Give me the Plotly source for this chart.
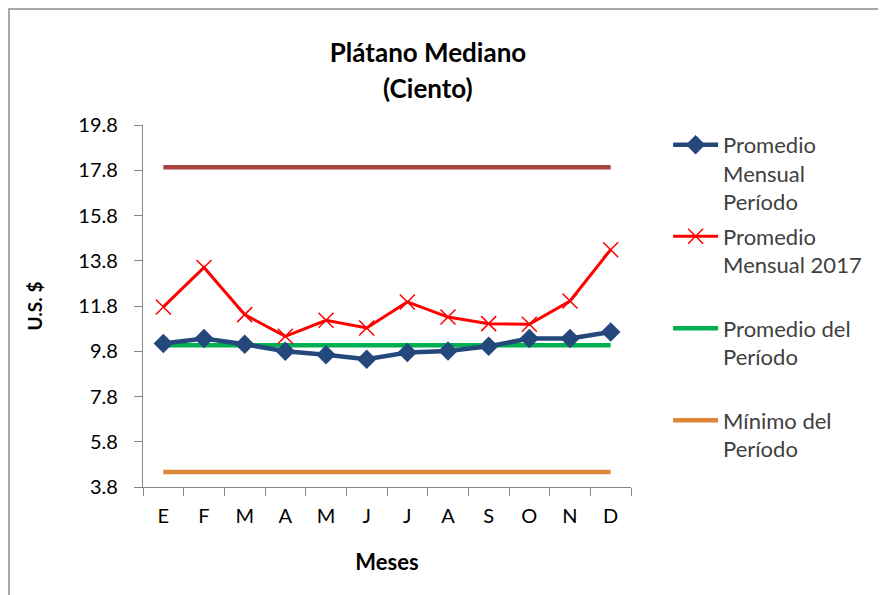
import plotly.graph_objects as go

meses = ["E", "F", "M", "A", "M ", "J", "J ", "A ", "S", "O", "N", "D"]
mes_labels = ["E", "F", "M", "A", "M", "J", "J", "A", "S", "O", "N", "D"]
prom_mensual_periodo = [10.14, 10.36, 10.11, 9.80, 9.65, 9.45, 9.74, 9.81, 10.02, 10.36, 10.36, 10.65]
prom_mensual_2017 = [11.76, 13.50, 11.42, 10.46, 11.17, 10.83, 11.98, 11.31, 11.02, 10.99, 12.02, 14.29]
prom_periodo = [10.07] * 12
max_periodo = [17.93] * 12
min_periodo = [4.46] * 12
y_ticks = [3.8, 5.8, 7.8, 9.8, 11.8, 13.8, 15.8, 17.8, 19.8]

FONT = "Lato"
# page body has an 8px margin: figure is sized/offset to compensate
W, H = 878, 587
ML, MT, PW, PH = 135, 117, 488, 362

fig = go.Figure()

fig.add_trace(go.Scatter(x=meses, y=max_periodo, mode="lines", name="Máximo del Período",
                         line=dict(color="#A8433F", width=4.5), showlegend=False))
fig.add_trace(go.Scatter(x=meses, y=min_periodo, mode="lines", name="Mínimo del<br>Período",
                         line=dict(color="#DE8538", width=4.5), legend="legend4"))
fig.add_trace(go.Scatter(x=meses, y=prom_periodo, mode="lines", name="Promedio del<br>Período",
                         line=dict(color="#00B050", width=4.5), legend="legend3"))
fig.add_trace(go.Scatter(x=meses, y=prom_mensual_periodo, mode="lines+markers",
                         name="Promedio<br>Mensual<br>Período",
                         line=dict(color="#24487C", width=4.5),
                         marker=dict(symbol="diamond", size=15, color="#24487C"), legend="legend"))
fig.add_trace(go.Scatter(x=meses, y=prom_mensual_2017, mode="lines+markers",
                         name="Promedio<br>Mensual 2017",
                         line=dict(color="#FF0000", width=3),
                         marker=dict(symbol="x-thin", size=15, line=dict(color="#FF0000", width=1.5)),
                         legend="legend2"))

leg_common = dict(x=1.076, xanchor="left", yanchor="top", valign="top",
                  font=dict(family=FONT, size=22, color="#404040"),
                  bgcolor="rgba(0,0,0,0)", itemwidth=45, tracegroupgap=0)

fig.update_layout(
    width=W, height=H,
    margin=dict(l=ML, r=W - ML - PW, t=MT, b=H - MT - PH, autoexpand=False),
    paper_bgcolor="white", plot_bgcolor="white",
    font=dict(family=FONT, color="#000000"),
    title=dict(text="<b>Plátano Mediano</b>", x=420 / W, xanchor="center",
               y=1 - 45 / H, yanchor="middle", font=dict(family=FONT, size=26, color="#000000")),
    annotations=[dict(text="<b>(Ciento)</b>", xref="paper", yref="paper",
                      x=(420 - ML) / PW, y=1 + (MT - 80) / PH, xanchor="center", yanchor="middle",
                      showarrow=False, font=dict(family=FONT, size=26, color="#000000"))],
    xaxis=dict(tickmode="array", tickvals=meses, ticktext=mes_labels,
               range=[-0.5, 11.5], showline=True, linecolor="#868686", linewidth=1.3,
               ticks="outside", tickson="boundaries", ticklen=8, tickcolor="#868686",
               showgrid=False, zeroline=False, ticklabelstandoff=11,
               tickfont=dict(family=FONT, size=20, color="#000000"),
               title=dict(text="<b>Meses</b>", font=dict(family=FONT, size=22, color="#000000"),
                          standoff=28)),
    yaxis=dict(range=[3.8, 19.8], tickmode="array", tickvals=y_ticks,
               ticktext=[f"{v:.1f}" for v in y_ticks],
               showline=True, linecolor="#868686", linewidth=1.3,
               ticks="outside", ticklen=8, tickcolor="#868686",
               showgrid=False, zeroline=False, ticklabelstandoff=12,
               tickfont=dict(family=FONT, size=20, color="#000000"),
               title=dict(text="<b>U.S. $</b>", font=dict(family=FONT, size=19, color="#000000"),
                          standoff=30)),
    legend=dict(y=1.003, **leg_common),
    legend2=dict(y=0.750, **leg_common),
    legend3=dict(y=0.496, **leg_common),
    legend4=dict(y=0.242, **leg_common),
    shapes=[dict(type="rect", xref="paper", yref="paper",
                 x0=(1 - ML) / PW, x1=1.7, y0=-0.5, y1=1 + (MT - 1) / PH,
                 line=dict(color="#8C8C8C", width=1.5), fillcolor="rgba(0,0,0,0)", layer="below")],
)

fig.write_html("out.html")
